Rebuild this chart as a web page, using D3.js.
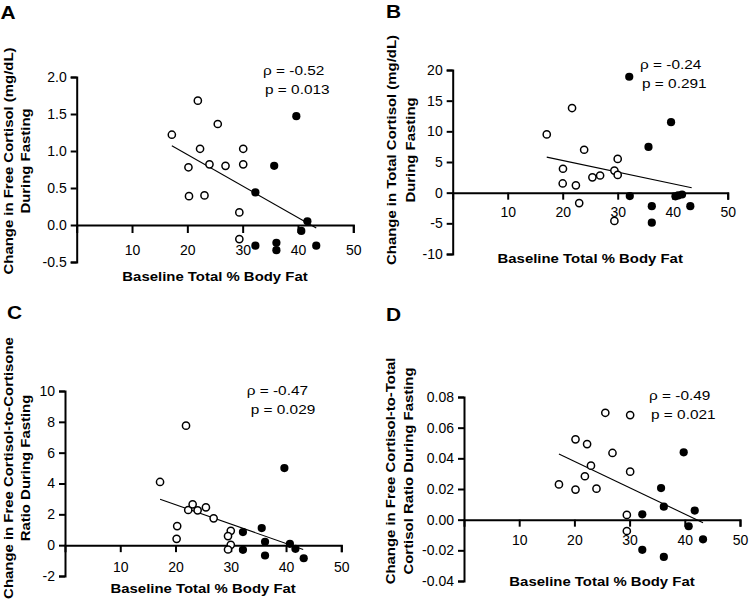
<!DOCTYPE html>
<html><head><meta charset="utf-8">
<script src="https://cdn.jsdelivr.net/npm/d3@7"></script>
<style>
body{margin:0;background:#fff;}
text{font-family:Arial,"Liberation Sans",Helvetica,sans-serif;}
</style></head>
<body><svg id="c" width="750" height="601"></svg>
<script>
// ---------- data ----------
const xTickValues = [10, 20, 30, 40, 50];

// Panel A: change in free cortisol
const aOpenX = [17.2, 21.9, 25.5, 22.3, 30.1, 20.2, 24.0, 26.9, 30.1, 20.3, 23.1, 29.4, 29.4];
const aOpenY = [1.22, 1.68, 1.365, 1.03, 1.03, 0.78, 0.82, 0.80, 0.82, 0.39, 0.40, 0.17, -0.19];
const aFillX = [39.7, 35.7, 32.3, 41.7, 40.6, 32.3, 36.1, 36.1, 43.3];
const aFillY = [1.47, 0.80, 0.44, 0.05, -0.08, -0.28, -0.24, -0.34, -0.28];
const aFitX = [17.2, 43.3];
const aFitY = [1.07, -0.04];
const aYTicks = [-0.5, 0.0, 0.5, 1.0, 1.5, 2.0];
const aYTickLabels = ["-0.5", "0.0", "0.5", "1.0", "1.5", "2.0"];

// Panel B: change in total cortisol
const bOpenX = [17.1, 21.7, 23.9, 20.05, 20.0, 22.4, 23.0, 25.4, 26.8, 29.4, 30.0, 30.0, 29.4];
const bOpenY = [9.5, 13.8, 7.0, 3.9, 1.5, 1.2, -1.7, 2.5, 2.8, 3.6, 5.5, 2.9, -4.6];
const bFillX = [32.1, 32.2, 36.2, 36.2, 35.6, 39.7, 40.5, 41.0, 41.7, 43.2];
const bFillY = [18.9, -0.55, -2.2, -4.9, 7.45, 11.5, -0.6, -0.45, -0.3, -2.2];
const bFitX = [17.1, 43.45];
const bFitY = [5.8, 0.8];
const bYTicks = [-10, -5, 0, 5, 10, 15, 20];
const bYTickLabels = ["-10", "-5", "0", "5", "10", "15", "20"];

// Panel C: change in free cortisol-to-cortisone ratio
const cOpenX = [17.2, 21.9, 20.3, 20.2, 22.3, 23.1, 24.0, 25.5, 26.9, 30.0, 29.5, 30.0, 29.5];
const cOpenY = [4.1, 7.75, 1.24, 0.41, 2.28, 2.65, 2.26, 2.45, 1.74, 0.93, 0.59, 0.02, -0.28];
const cFillX = [32.2, 32.2, 35.6, 36.2, 36.2, 39.7, 40.7, 41.7, 43.2];
const cFillY = [0.85, -0.3, 1.11, 0.22, -0.67, 5.0, 0.09, -0.24, -0.85];
const cFitX = [17.2, 43.1];
const cFitY = [2.98, -0.28];
const cYTicks = [-2, 0, 2, 4, 6, 8, 10];
const cYTickLabels = ["-2", "0", "2", "4", "6", "8", "10"];

// Panel D: change in free cortisol-to-total cortisol ratio
const dOpenX = [17.2, 20.2, 20.2, 21.9, 22.3, 23.0, 24.0, 25.6, 26.9, 30.1, 30.1, 29.5, 29.5];
const dOpenY = [0.023, 0.0524, 0.0196, 0.0283, 0.0493, 0.0352, 0.0202, 0.0697, 0.0435, 0.0682, 0.0313, 0.0031, -0.0074];
const dFillX = [32.3, 32.3, 35.7, 36.2, 36.2, 39.8, 40.7, 41.8, 43.3];
const dFillY = [0.0035, -0.0197, 0.0206, 0.0085, -0.0243, 0.0439, -0.0043, 0.0059, -0.0128];
const dFitX = [17.2, 43.3];
const dFitY = [0.0428, -0.002];
const dYTicks = [-0.04, -0.02, 0, 0.02, 0.04, 0.06, 0.08];
const dYTickLabels = ["-0.04", "-0.02", "0.00", "0.02", "0.04", "0.06", "0.08"];

const letters = ["A", "B", "C", "D"];
const yTitles = [
  ["Change in Free Cortisol (mg/dL)", "During Fasting"],
  ["Change in Total Cortisol (mg/dL)", "During Fasting"],
  ["Change in Free Cortisol-to-Cortisone", "Ratio During Fasting"],
  ["Change in Free Cortisol-to-Total", "Cortisol Ratio During Fasting"]
];
const xTitle = "Baseline Total % Body Fat";
const rhoLabels = ["ρ = -0.52", "ρ = -0.24", "ρ = -0.47", "ρ = -0.49"];
const pLabels = ["p = 0.013", "p = 0.291", "p = 0.029", "p = 0.021"];

// ---------- layout ----------
const panels = [
  {openX:aOpenX, openY:aOpenY, fillX:aFillX, fillY:aFillY, fitX:aFitX, fitY:aFitY, yt:aYTicks, ytl:aYTickLabels,
   xr:[76.7,353.3], yd:[-0.5,2.0], yr:[262,77], xLab:30, xTick:8, letter:[0.5,18.5],
   yT1:12.5, yT2:30, yTc:161, xTB:281, rho:[263,74.5], p:[265,94]},
  {openX:bOpenX, openY:bOpenY, fillX:bFillX, fillY:bFillY, fitX:bFitX, fitY:bFitY, yt:bYTicks, ytl:bYTickLabels,
   xr:[452.7,727.7], yd:[-10,20], yr:[254,70], xLab:24, xTick:7, letter:[386,17.5],
   yT1:396, yT2:414.5, yTc:150, xTB:263, rho:[640,68.5], p:[642,88]},
  {openX:cOpenX, openY:cOpenY, fillX:cFillX, fillY:cFillY, fitX:cFitX, fitY:cFitY, yt:cYTicks, ytl:cYTickLabels,
   xr:[65,341.3], yd:[-2,10], yr:[576,391], xLab:27, xTick:7, letter:[7,318.5],
   yT1:12.5, yT2:30, yTc:468, xTB:593, rho:[246.7,394.5], p:[250.7,414]},
  {openX:dOpenX, openY:dOpenY, fillX:dFillX, fillY:dFillY, fitX:dFitX, fitY:dFitY, yt:dYTicks, ytl:dYTickLabels,
   xr:[464,740], yd:[-0.04,0.08], yr:[581,397], xLab:25, xTick:7, letter:[386,320.5],
   yT1:395, yT2:413, yTc:471, xTB:586, rho:[649,399.5], p:[651,419]}
];

const svg = d3.select("#c");
svg.append("rect").attr("width",750).attr("height",601).attr("fill","#fff");

const titleScale = 1.13;   // glyphs in the reference are slightly wide
const annScale = 1.14;

panels.forEach((P, i) => {
  const x = d3.scaleLinear().domain([0,50]).range(P.xr);
  const y = d3.scaleLinear().domain(P.yd).range(P.yr);
  const g = svg.append("g");

  // axes
  const fs = 14;
  const xAxis = d3.axisBottom(x).tickValues(xTickValues).tickFormat(d3.format("d"))
      .tickSizeOuter(0).tickSize(P.xTick).tickPadding(P.xLab - P.xTick - fs*0.71);
  const xg = g.append("g").attr("transform", `translate(0,${y(0)})`).call(xAxis);
  const yAxis = d3.axisLeft(y).tickValues(P.yt).tickFormat((d,k) => P.ytl[k])
      .tickSizeOuter(0).tickSize(6).tickPadding(4);
  const yg = g.append("g").attr("transform", `translate(${x(0)},0)`).call(yAxis);
  [xg, yg].forEach(a => {
    a.select(".domain").attr("stroke","#000").attr("stroke-width",2);
    a.selectAll(".tick line").attr("stroke","#000").attr("stroke-width",2);
    a.selectAll(".tick text").attr("fill","#000").attr("font-size",fs)
      .attr("font-family","Arial, 'Liberation Sans', Helvetica, sans-serif");
  });

  // fit line
  g.append("line")
    .attr("x1", x(P.fitX[0])).attr("y1", y(P.fitY[0]))
    .attr("x2", x(P.fitX[1])).attr("y2", y(P.fitY[1]))
    .attr("stroke","#000").attr("stroke-width",1.1);

  // open points
  g.selectAll("circle.o").data(P.openX.map((v,k)=>[v,P.openY[k]])).enter()
    .append("circle").attr("class","o")
    .attr("cx", d=>x(d[0])).attr("cy", d=>y(d[1])).attr("r",3.6)
    .attr("fill","#fff").attr("stroke","#000").attr("stroke-width",1.5);
  // filled points
  g.selectAll("circle.f").data(P.fillX.map((v,k)=>[v,P.fillY[k]])).enter()
    .append("circle").attr("class","f")
    .attr("cx", d=>x(d[0])).attr("cy", d=>y(d[1])).attr("r",4.1)
    .attr("fill","#000");

  // panel letter
  g.append("text").attr("transform",`translate(${P.letter[0]},${P.letter[1]}) scale(1.1,1)`)
    .attr("font-size",19).attr("font-weight","bold").text(letters[i]);

  // y title
  [[P.yT1, yTitles[i][0]], [P.yT2, yTitles[i][1]]].forEach(([bx, t]) => {
    g.append("text").attr("transform", `translate(${bx},${P.yTc}) rotate(-90) scale(${titleScale},1)`)
      .attr("text-anchor","middle").attr("font-size",13.2).attr("font-weight","bold").text(t);
  });

  // x title
  g.append("text").attr("transform",`translate(${(P.xr[0]+P.xr[1])/2},${P.xTB}) scale(${titleScale},1)`)
    .attr("text-anchor","middle").attr("font-size",13.2).attr("font-weight","bold").text(xTitle);

  // annotations
  g.append("text").attr("transform",`translate(${P.rho[0]},${P.rho[1]}) scale(${annScale},1)`)
    .attr("font-size",13.5).text(rhoLabels[i]);
  g.append("text").attr("transform",`translate(${P.p[0]},${P.p[1]}) scale(${annScale},1)`)
    .attr("font-size",13.5).text(pLabels[i]);
});
</script>
</body></html>
